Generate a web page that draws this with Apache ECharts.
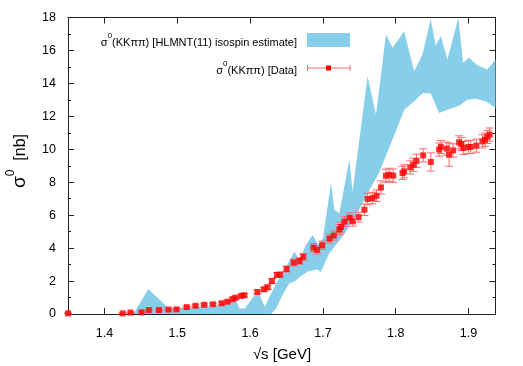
<!DOCTYPE html>
<html><head><meta charset="utf-8">
<script src="https://cdn.jsdelivr.net/npm/echarts@6/dist/echarts.min.js"></script>
<style>html,body{margin:0;padding:0;background:#fff}#c{width:523px;height:366px}</style>
</head><body><div id="c"></div>
<script>
// Band: upper edge (left to right)
const bandUpperX = [1.4397,1.4603,1.4877,1.510,1.530,1.551,1.565,1.5788,1.5856,1.5925,1.6107,1.6199,1.636,1.6496,1.661,1.6678,1.6767,1.686,1.693,1.700,1.7112,1.7158,1.7226,1.7363,1.7408,1.7614,1.7729,1.7866,1.7956,1.8116,1.8253,1.8367,1.848,1.855,1.862,1.871,1.886,1.8925,1.9007,1.912,1.9258,1.937];
const bandUpperY = [0,1.52,0.38,0.40,0.42,0.45,0.60,0.95,0.34,0.34,1.40,0.44,1.87,2.88,3.79,3.28,4.20,4.80,4.20,4.60,7.95,6.33,6.12,9.37,7.44,14.43,12.1,16.97,16.16,17.17,14.74,15.75,17.9,16.3,16.87,15.45,17.99,15.25,15.55,15.1,14.84,15.45];
// Band: lower edge (left to right)
const bandLowerX = [1.4397,1.629,1.636,1.645,1.654,1.662,1.670,1.680,1.692,1.697,1.709,1.725,1.741,1.761,1.777,1.7956,1.8116,1.825,1.837,1.848,1.8596,1.871,1.887,1.898,1.910,1.924,1.937];
const bandLowerY = [0,0,0.35,1.2,1.87,2.0,2.3,2.6,2.7,2.55,3.7,4.6,5.6,7.3,8.56,10.6,12.4,12.9,13.4,13.4,12.2,12.4,12.65,13.0,13.06,12.9,12.5];

// Data points
const dataX = [1.350,1.425,1.436,1.451,1.461,1.475,1.488,1.499,1.513,1.525,1.537,1.549,1.561,1.569,1.576,1.580,1.588,1.592,1.610,1.619,1.624,1.630,1.637,1.641,1.650,1.660,1.668,1.673,1.687,1.692,1.699,1.709,1.715,1.7225,1.725,1.7295,1.7365,1.741,1.749,1.757,1.7614,1.768,1.7737,1.7797,1.7866,1.791,1.7966,1.8094,1.8116,1.820,1.8244,1.8285,1.8377,1.8482,1.8596,1.862,1.870,1.8733,1.8788,1.887,1.8902,1.893,1.8997,1.903,1.9107,1.919,1.9226,1.9258,1.929];
const dataY = [0.04,0.04,0.09,0.10,0.24,0.24,0.27,0.28,0.42,0.50,0.56,0.59,0.65,0.75,0.90,0.99,1.10,1.14,1.34,1.50,1.62,2.00,2.37,2.39,2.73,3.12,3.22,3.47,4.03,3.89,4.17,4.58,4.76,5.13,5.28,5.61,5.84,5.63,5.88,6.33,6.98,7.04,7.18,7.68,8.39,8.45,8.40,8.56,8.66,8.90,9.06,9.30,9.63,9.23,9.98,10.14,10.04,9.67,9.93,10.42,10.32,10.08,10.14,10.14,10.22,10.48,10.58,10.75,10.89];
const dataErr = [0.02,0.03,0.03,0.04,0.05,0.05,0.05,0.05,0.06,0.06,0.06,0.07,0.08,0.08,0.10,0.10,0.10,0.10,0.12,0.12,0.13,0.15,0.15,0.15,0.18,0.20,0.20,0.20,0.25,0.25,0.25,0.28,0.28,0.30,0.30,0.30,0.30,0.30,0.30,0.35,0.35,0.35,0.35,0.40,0.40,0.40,0.40,0.40,0.40,0.40,0.40,0.40,0.40,0.55,0.40,0.40,0.40,0.70,0.40,0.40,0.40,0.40,0.40,0.40,0.40,0.40,0.40,0.40,0.40];

const yTicks = {min: 0, max: 18, interval: 2};
const xRange = {min: 1.35, max: 1.937};

const bandPoly = [];
for (let i = 0; i < bandUpperX.length; i++) bandPoly.push([bandUpperX[i], bandUpperY[i]]);
for (let i = bandLowerX.length - 1; i >= 0; i--) bandPoly.push([bandLowerX[i], bandLowerY[i]]);

const FONT = '"Liberation Sans", Arial, Helvetica, sans-serif';
const BAND = '#87CEEB';
const ERRC = '#ff6a6a';
const PT = '#ff0000';
const AX = '#222';

const chart = echarts.init(document.getElementById('c'), null, {renderer: 'canvas'});

const xCommon = {
  type: 'value', min: xRange.min, max: xRange.max, splitNumber: 6,
  axisLine: {show: true, onZero: false, lineStyle: {color: AX, width: 1}},
  axisTick: {show: true, inside: true, length: 6, lineStyle: {color: AX}},
  splitLine: {show: false}
};
const yCommon = {
  type: 'value', min: yTicks.min, max: yTicks.max, interval: yTicks.interval,
  axisLine: {show: true, onZero: false, lineStyle: {color: AX, width: 1}},
  axisTick: {show: true, inside: true, length: 6, lineStyle: {color: AX}},
  minorTick: {show: true, splitNumber: 2, length: 3, lineStyle: {color: AX}},
  splitLine: {show: false}
};

function legendText(main) {
  return '{m|σ}{s|0}{m|' + main + '}';
}
const richStyle = {
  m: {fontSize: 11, fontFamily: FONT, color: '#000', lineHeight: 16, verticalAlign: 'bottom'},
  s: {fontSize: 8, fontFamily: FONT, color: '#000', lineHeight: 9, verticalAlign: 'top'}
};

chart.setOption({
  animation: false,
  backgroundColor: '#fff',
  grid: {left: 68, right: 27.5, top: 17.5, bottom: 52},
  xAxis: [
    Object.assign({}, xCommon, {position: 'bottom',
      axisLabel: {show: true, fontSize: 12.5, fontFamily: FONT, color: '#000', margin: 13, showMinLabel: false, showMaxLabel: false}}),
    Object.assign({}, xCommon, {position: 'top', axisLabel: {show: false}})
  ],
  yAxis: [
    Object.assign({}, yCommon, {position: 'left',
      axisLabel: {show: true, fontSize: 12.5, fontFamily: FONT, color: '#000', margin: 12}}),
    Object.assign({}, yCommon, {position: 'right', axisLabel: {show: false}})
  ],
  series: [
    {
      type: 'custom', name: 'band', xAxisIndex: 0, yAxisIndex: 0, clip: true, z: 1,
      data: bandPoly,
      encode: {x: 0, y: 1},
      renderItem: function (params, api) {
        if (params.dataIndex !== 0) return null;
        const pts = bandPoly.map(p => api.coord(p));
        return {type: 'polygon', shape: {points: pts}, style: {fill: BAND, stroke: null}};
      }
    },
    {
      type: 'custom', name: 'err', xAxisIndex: 0, yAxisIndex: 0, clip: false, z: 2,
      data: dataX.map((x, i) => [x, dataY[i] - dataErr[i], dataY[i] + dataErr[i]]),
      encode: {x: 0, y: [1, 2]},
      renderItem: function (params, api) {
        const lo = api.coord([api.value(0), api.value(1)]);
        const hi = api.coord([api.value(0), api.value(2)]);
        const w = 4;
        const st = {stroke: ERRC, lineWidth: 1};
        return {type: 'group', children: [
          {type: 'line', shape: {x1: lo[0], y1: lo[1], x2: hi[0], y2: hi[1]}, style: st},
          {type: 'line', shape: {x1: lo[0] - w, y1: lo[1], x2: lo[0] + w, y2: lo[1]}, style: st},
          {type: 'line', shape: {x1: hi[0] - w, y1: hi[1], x2: hi[0] + w, y2: hi[1]}, style: st}
        ]};
      }
    },
    {
      type: 'scatter', name: 'data', xAxisIndex: 0, yAxisIndex: 0, clip: false, z: 3,
      symbol: 'rect', symbolSize: 6,
      itemStyle: {color: PT},
      data: dataX.map((x, i) => [x, dataY[i]])
    }
  ],
  graphic: [
    {type: 'text', z: 100, x: 297, y: 40,
      style: {text: legendText('(KKππ) [HLMNT(11) isospin estimate]'), rich: richStyle,
        align: 'right', verticalAlign: 'middle', textAlign: 'right', textVerticalAlign: 'middle'}},
    {type: 'rect', z: 100, shape: {x: 307, y: 33, width: 43, height: 14}, style: {fill: BAND}},
    {type: 'text', z: 100, x: 297, y: 68,
      style: {text: legendText('(KKππ) [Data]'), rich: richStyle,
        align: 'right', verticalAlign: 'middle', textAlign: 'right', textVerticalAlign: 'middle'}},
    {type: 'line', z: 100, shape: {x1: 307.5, y1: 68, x2: 350, y2: 68}, style: {stroke: ERRC, lineWidth: 1}},
    {type: 'line', z: 100, shape: {x1: 307.5, y1: 65, x2: 307.5, y2: 71}, style: {stroke: ERRC, lineWidth: 1}},
    {type: 'line', z: 100, shape: {x1: 350, y1: 65, x2: 350, y2: 71}, style: {stroke: ERRC, lineWidth: 1}},
    {type: 'rect', z: 101, shape: {x: 326, y: 65.5, width: 5, height: 5}, style: {fill: PT}},
    {type: 'text', z: 100, x: 282, y: 355,
      style: {text: '√s [GeV]', font: '15px ' + FONT, fill: '#000',
        align: 'center', verticalAlign: 'middle', textAlign: 'center', textVerticalAlign: 'middle'}},
    {type: 'text', z: 100, x: 17, y: 161, rotation: Math.PI / 2,
      style: {text: '{g|σ}{s|0}{m|  [nb]}',
        rich: {
          g: {fontSize: 19, fontFamily: FONT, color: '#000', lineHeight: 24, verticalAlign: 'bottom'},
          m: {fontSize: 16, fontFamily: FONT, color: '#000', lineHeight: 24, verticalAlign: 'bottom'},
          s: {fontSize: 12, fontFamily: FONT, color: '#000', lineHeight: 13, verticalAlign: 'top'}
        },
        align: 'center', verticalAlign: 'middle', textAlign: 'center', textVerticalAlign: 'middle'}}
  ]
});
</script></body></html>
